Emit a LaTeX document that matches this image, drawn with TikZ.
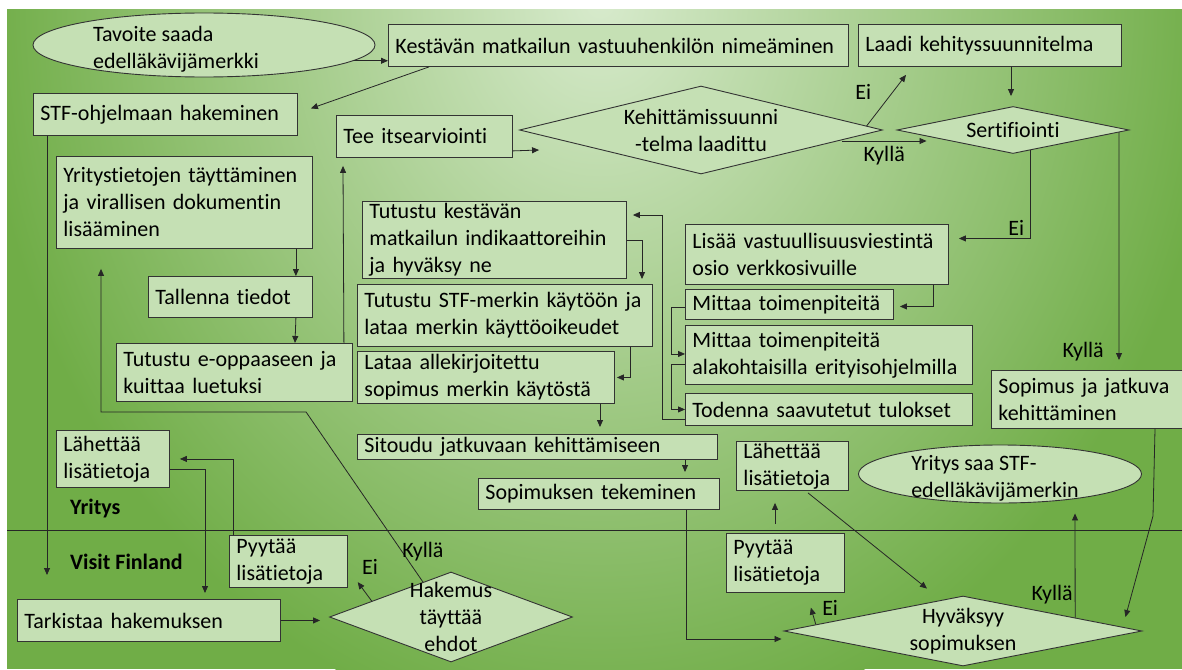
\documentclass[tikz,border=0pt]{standalone}
\usepackage{fontspec}
\setmainfont{Carlito}[Ligatures=NoCommon]
\usepackage{tikz}
\usetikzlibrary{arrows.meta,calc,positioning,shapes.geometric}
\definecolor{boxgreen}{HTML}{C5E0B4}
\definecolor{bglight}{HTML}{D7EACC}
\definecolor{bgdark}{HTML}{70AD47}
\definecolor{linegray}{HTML}{333333}

\begin{document}
\begin{tikzpicture}[x=1pt,y=-1pt,>={Triangle[length=7pt,width=6pt]},
  every node/.style={font=\fontsize{22}{27}\selectfont},
  stepbox/.style={draw=linegray,line width=0.9pt,fill=boxgreen,anchor=north west,align=left,inner xsep=7pt,inner ysep=0pt},
  decision/.style={draw=linegray,line width=0.9pt,fill=boxgreen,diamond,inner sep=0pt},
  goal/.style={draw=linegray,line width=0.9pt,fill=boxgreen,ellipse,inner sep=0pt},
  lane/.style={anchor=west,inner sep=0pt,font=\fontsize{22}{27}\selectfont\bfseries},
  lbl/.style={inner sep=1pt},
  flow/.style={->,line width=0.8pt,draw=black!85}]
\useasboundingbox (0,0) rectangle (1182,669);
\fill[white] (0,0) rectangle (1182,669);
\begin{scope}
\clip (7,10) rectangle (1182,669);
\fill[bgdark] (7,10) rectangle (1182,669);
\shade[inner color=bglight,outer color=bgdark] (600,0) ellipse (620 and 740);
\end{scope}
\draw[line width=0.9pt,black!85] (7,530) -- (1182,530);

\node[lane] (yritys) at (70,509) {Yritys};
\node[lane] (visitfi) at (70,562) {Visit Finland};

\node[goal,minimum width=342pt,minimum height=64pt,label={[name=tavoitetxt,align=left,xshift=-28pt,yshift=-4pt]center:Tavoite saada\\edelläkävijämerkki}] (tavoite) at (204,45) {};
\node[stepbox,text width=446pt,minimum height=42pt] (kestava) at (388,24) {Kestävän matkailun vastuuhenkilön nimeäminen};
\node[stepbox,text width=249pt,minimum height=42pt] (laadi) at (858,24) {Laadi kehityssuunnitelma};
\node[stepbox,text width=250pt,minimum height=42pt] (stfhaku) at (33,93) {STF-ohjelmaan hakeminen};
\node[stepbox,text width=162pt,minimum height=42pt] (tee) at (336,115) {Tee itsearviointi};
\node[decision,minimum width=363pt,minimum height=88pt,label={[name=kehitystxt,align=center]center:Kehittämissuunni\\-telma laadittu}] (kehitys) at (701,130) {};
\node[decision,minimum width=232pt,minimum height=47pt,label={[name=sertiftxt]center:Sertifiointi}] (sertif) at (1013,130) {};
\node[stepbox,text width=242pt,minimum height=92pt] (yritystiedot) at (56,156) {Yritystietojen täyttäminen\\ja virallisen dokumentin\\lisääminen};
\node[stepbox,text width=150pt,minimum height=41pt] (tallenna) at (148,276) {Tallenna tiedot};
\node[stepbox,text width=222pt,minimum height=58pt] (eopas) at (116,343) {Tutustu e-oppaaseen ja\\kuittaa luetuksi};
\node[stepbox,text width=250pt,minimum height=77pt] (indik) at (362,201) {Tutustu kestävän\\matkailun indikaattoreihin\\ja hyväksy ne};
\node[stepbox,text width=281pt,minimum height=62pt] (stfmerkki) at (357,284) {Tutustu STF-merkin käytöön ja\\lataa merkin käyttöoikeudet};
\node[stepbox,text width=243pt,minimum height=52pt] (lataa) at (357,351) {Lataa allekirjoitettu\\sopimus merkin käytöstä};
\node[stepbox,text width=346pt,minimum height=25pt] (sitoudu) at (357,434) {Sitoudu jatkuvaan kehittämiseen};
\node[stepbox,text width=227pt,minimum height=31pt] (soptek) at (478,478) {Sopimuksen tekeminen};
\node[stepbox,text width=249pt,minimum height=60pt] (lisaa) at (685,224) {Lisää vastuullisuusviestintä\\osio verkkosivuille};
\node[stepbox,text width=194pt,minimum height=30pt] (mittaa) at (685,289) {Mittaa toimenpiteitä};
\node[stepbox,text width=273pt,minimum height=59pt] (mittaala) at (685,325) {Mittaa toimenpiteitä\\alakohtaisilla erityisohjelmilla};
\node[stepbox,text width=273pt,minimum height=32pt] (todenna) at (685,393) {Todenna saavutetut tulokset};
\node[stepbox,text width=177pt,minimum height=58pt] (sopjatk) at (991,370) {Sopimus ja jatkuva\\kehittäminen};
\node[stepbox,text width=98pt,minimum height=49pt] (lahetaoik) at (736,441) {Lähettää\\lisätietoja};
\node[goal,minimum width=283pt,minimum height=58pt,label={[name=yritysaatxt,align=left,xshift=-5pt,yshift=-4pt]center:Yritys saa STF-\\edelläkävijämerkin}] (yritysaa) at (1000,474) {};
\node[stepbox,text width=99pt,minimum height=57pt] (lahetavas) at (56,430) {Lähettää\\lisätietoja};
\node[stepbox,text width=104pt,minimum height=52pt] (pyydavas) at (229,535) {Pyytää\\lisätietoja};
\node[stepbox,text width=249pt,minimum height=42pt] (tarkista) at (17,599) {Tarkistaa hakemuksen};
\node[decision,minimum width=243pt,minimum height=90pt,label={[name=hakemustxt,align=center]center:Hakemus\\täyttää\\ehdot}] (hakemus) at (451,617) {};
\node[stepbox,text width=104pt,minimum height=59pt] (pyydaoik) at (726,533) {Pyytää\\lisätietoja};
\node[decision,minimum width=358pt,minimum height=70pt,label={[name=hyvaksyytxt,align=center]center:Hyväksyy\\sopimuksen}] (hyvaksyy) at (963,631) {};

\draw[flow] (tavoite.-6) -- (tavoite.-6 -| kestava.west);
\draw[flow] ($(kestava.south west)+(41,0)$) -- ($(stfhaku.east)+(13,-6)$);
\draw[flow] ($(stfhaku.south west)+(14,0)$) -- ($(tarkista.north west)+(30,-24)$);
\draw[flow] (tarkista.east) -- ($(tarkista.east -| hakemus.west)+(-9,0)$);
\draw[flow] ($(hakemus.west)!0.35!(hakemus.north)$) -- ++(-14,-19) node[lbl,above right=6pt and 3pt]{Ei};
\draw[flow] ($(pyydavas.north west)+(4,0)$) |- ($(lahetavas.east)+(10,0)$);
\draw[flow] ($(lahetavas.east)+(0,10)$) -| ($(tarkista.north west)+(188,-6)$);
\draw[flow] ($(hakemus.west)!0.77!(hakemus.north)$) node[lbl,above=20pt]{Kyllä} -- ($(eopas.south west)+(190,10)$) -- ($(eopas.south west)+(-15,10)$) -- ($(yritystiedot.south west)+(45,20)$);
\draw[flow] ($(yritystiedot.south east)+(-17,0)$) -- ($(tallenna.north east)+(-17,0)$);
\draw[flow] ($(tallenna.south east)+(-17,0)$) -- ($(eopas.north west)+(179,0)$);
\draw[flow] ($(eopas.north east)+(-9,0)$) -- ($(tee.south west)+(7,8)$);
\draw[flow] ($(tee.south east)+(0,-7)$) -- ($(kehitys.west)+(20,20)$);
\draw[flow] ($(kehitys.east)!0.09!(kehitys.north)$) -- ($(laadi.south west)+(48,8)$) node[lbl,pos=0.66,left=20pt]{Ei};
\draw[flow] ($(kehitys.east)+(-41,11)$) -- ($(sertif.west)+(30,11)$) node[lbl,midway,below=4pt]{Kyllä};
\draw[flow] ($(laadi.south west)+(153,0)$) -- ($(sertif.north)+(-2,-10)$);
\draw[flow] ($(sertif.south)!0.15!(sertif.east)$) |- ($(lisaa.east)+(10,-16)$) node[lbl,pos=0.6,above=2pt]{Ei};
\draw[flow] ($(sertif.east)!0.09!(sertif.south)$) -- ($(sopjatk.north west)+(128,-10)$) node[lbl,pos=0.965,left=14pt]{Kyllä};
\draw[flow] ($(lisaa.south east)+(-16,0)$) |- ($(mittaa.east)+(6,2)$);
\draw[flow] ($(mittaa.west)+(0,3)$) -- ++(-14,0) |- ($(mittaala.west)+(0,-1)$);
\draw[flow] ($(mittaala.west)+(0,9)$) -- ++(-14,0) |- (todenna.west);
\draw[flow] ($(todenna.west)+(0,10)$) -- ++(-23,0) |- ($(indik.north east)+(6,14)$);
\draw[flow] (indik.east) -| ($(stfmerkki.north west)+(285,-5)$);
\draw[flow] ($(stfmerkki.south west)+(273,0)$) |- ($(lataa.east)+(2,0)$);
\draw[flow] ($(lataa.south west)+(243,0)$) -- ($(sitoudu.north west)+(243,-7)$);
\draw[flow] ($(sitoudu.south west)+(328,0)$) -- ($(soptek.north west)+(207,-6)$);
\draw[flow] ($(soptek.south west)+(208,0)$) |- ($(hyvaksyy.west)+(-2,8)$);
\draw[flow] ($(hyvaksyy.west)!0.18!(hyvaksyy.north)$) -- ++(-5,-17) node[lbl,right=10pt]{Ei};
\draw[flow] ($(pyydaoik.north west)+(49,-9)$) -- ($(lahetaoik.south west)+(39,12)$);
\draw[flow] ($(lahetaoik.south west)+(72,2)$) -- ($(hyvaksyy.north)+(-36,-7)$);
\draw[flow] ($(hyvaksyy.north)!0.625!(hyvaksyy.east)$) -- ($(yritysaa.south)+(75,10)$) node[lbl,pos=0.22,left=1pt]{Kyllä};
\draw[flow] ($(sopjatk.south west)+(164,0)$) -- ($(sopjatk.south west)+(162,87)$) -- ($(hyvaksyy.east)+(-17,-14)$);
\end{tikzpicture}
\end{document}
